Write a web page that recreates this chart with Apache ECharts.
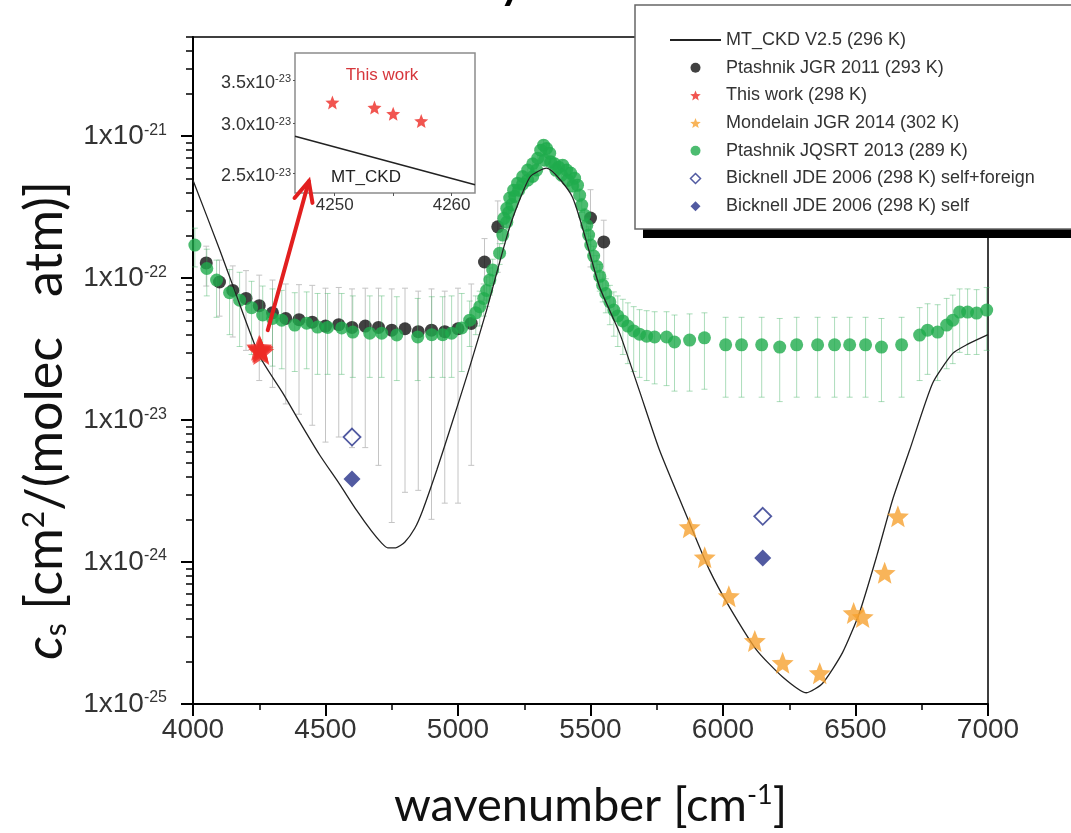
<!DOCTYPE html>
<html><head><meta charset="utf-8">
<script src="https://cdn.jsdelivr.net/npm/echarts@6/dist/echarts.min.js"></script>
<style>html,body{margin:0;padding:0;background:#fff}#c{width:1071px;height:833px}</style>
</head><body><div id="c"></div>
<script>
// ---------------- DATA ----------------
const yMajorTicks = [1e-25, 1e-24, 1e-23, 1e-22, 1e-21];
const yMinorMantissas = [2, 3, 4, 5, 6, 7, 8, 9];
const insetXLabels = [4250, 4260];
const insetXTicks = [4250, 4255, 4260];
const insetYTicks = [2.5e-23, 3.0e-23, 3.5e-23];

// MT_CKD V2.5 (296 K)
const mtckdX = [4000, 4101, 4157, 4250, 4339, 4403, 4478, 4553, 4617, 4674, 4712, 4735, 4765, 4799, 4837, 4867, 4920, 4969, 5044, 5108, 5195, 5271, 5334, 5432, 5534, 5610, 5685, 5761, 5874, 5950, 6025, 6127, 6225, 6315, 6376, 6451, 6515, 6580, 6640, 6705, 6791, 6867, 6920, 7000];
const mtckdY = [4.9e-22, 1.58e-22, 8.2e-23, 2.85e-23, 1.55e-23, 9.68e-24, 5.68e-24, 3.54e-24, 2.32e-24, 1.65e-24, 1.36e-24, 1.26e-24, 1.26e-24, 1.38e-24, 1.73e-24, 2.32e-24, 4.45e-24, 8.51e-24, 2.36e-23, 5.96e-23, 2.29e-22, 5.14e-22, 5.96e-22, 3.72e-22, 8.7e-23, 4.1e-23, 1.6e-23, 6.1e-24, 1.88e-24, 8.7e-25, 4.8e-25, 2.4e-25, 1.55e-25, 1.2e-25, 1.4e-25, 2.3e-25, 4.4e-25, 1.1e-24, 2.75e-24, 6.2e-24, 1.82e-23, 2.95e-23, 3.4e-23, 4.0e-23];

// Ptashnik JGR 2011 (293 K)
const p11X  = [4050, 4100, 4150, 4200, 4250, 4300, 4350, 4400, 4450, 4500, 4550, 4600, 4650, 4700, 4750, 4800, 4850, 4900, 4950, 5000, 5050, 5100, 5150, 5500, 5550];
const p11Y  = [1.28e-22, 9.4e-23, 8.2e-23, 7.2e-23, 6.4e-23, 5.7e-23, 5.2e-23, 5.1e-23, 4.9e-23, 4.6e-23, 4.7e-23, 4.5e-23, 4.6e-23, 4.5e-23, 4.3e-23, 4.4e-23, 4.2e-23, 4.3e-23, 4.2e-23, 4.4e-23, 4.8e-23, 1.3e-22, 2.3e-22, 2.65e-22, 1.8e-22];
const p11Lo = [8.8e-23, 5.4e-23, 3.85e-23, 3.1e-23, 1.9e-23, 1.7e-23, 1.3e-23, 1.1e-23, 9.2e-24, 7.0e-24, 7.6e-24, 6.4e-24, 6.4e-24, 4.8e-24, 1.9e-24, 3.1e-24, 3.2e-24, 2.0e-24, 2.6e-24, 2.6e-24, 4.8e-24, 7.0e-23, 1.1e-22, 1.2e-22, 1.0e-22];
const p11Hi = [1.68e-22, 1.34e-22, 1.22e-22, 1.13e-22, 1.05e-22, 9.7e-23, 9.1e-23, 9.0e-23, 8.9e-23, 8.5e-23, 8.6e-23, 8.4e-23, 8.5e-23, 8.5e-23, 8.4e-23, 8.5e-23, 8.1e-23, 8.4e-23, 8.1e-23, 8.5e-23, 9.1e-23, 1.9e-22, 3.5e-22, 4.2e-22, 2.56e-22];

// Ptashnik JQSRT 2013 (289 K)
const p13X = [4007, 4052, 4089, 4138, 4176, 4221, 4263, 4300, 4335, 4384, 4429, 4470, 4508, 4561, 4603, 4667, 4712, 4769, 4848, 4901, 4942, 4976, 5014,
  5044, 5067, 5082, 5097, 5108, 5120, 5131, 5157, 5169, 5184, 5191, 5203, 5214, 5229, 5244, 5263, 5282, 5297, 5173, 5184, 5195, 5210, 5225, 5244, 5263, 5282,
  5301, 5312, 5323, 5334, 5346, 5327, 5350,
  5365, 5380, 5395, 5410, 5425, 5440, 5451, 5369, 5391, 5414, 5433, 5459, 5467, 5478, 5486, 5493, 5501, 5512, 5524, 5535, 5546, 5558, 5573, 5588, 5603, 5622, 5641, 5663, 5685, 5712, 5742,
  5787, 5817, 5874, 5930, 6010, 6070, 6146, 6214, 6278, 6357, 6421, 6478, 6538, 6598, 6674, 6742, 6772, 6810, 6844, 6867, 6893, 6923, 6957, 6995];
const p13Y = [1.71e-22, 1.17e-22, 9.7e-23, 7.9e-23, 7.0e-23, 6.2e-23, 5.5e-23, 5.2e-23, 5.06e-23, 4.67e-23, 4.82e-23, 4.52e-23, 4.5e-23, 4.46e-23, 4.17e-23, 4.1e-23, 4.1e-23, 3.98e-23, 3.85e-23, 4.0e-23, 4.0e-23, 4.1e-23, 4.46e-23,
  5.06e-23, 5.7e-23, 6.3e-23, 7.2e-23, 8.2e-23, 9.7e-23, 1.14e-22, 1.5e-22, 2.01e-22, 2.48e-22, 2.9e-22, 3.3e-22, 3.77e-22, 4.17e-22, 4.6e-22, 4.9e-22, 5.2e-22, 5.77e-22, 2.64e-22, 3.1e-22, 3.67e-22, 4.17e-22, 4.67e-22, 5.2e-22, 5.77e-22, 6.4e-22,
  7.0e-22, 7.97e-22, 8.65e-22, 8.2e-22, 7.6e-22, 6.78e-22, 6.6e-22,
  6.4e-22, 6.05e-22, 6.25e-22, 5.77e-22, 5.5e-22, 5.06e-22, 4.52e-22, 5.77e-22, 5.31e-22, 4.9e-22, 4.46e-22, 3.84e-22, 3.27e-22, 2.78e-22, 2.36e-22, 2.01e-22, 1.71e-22, 1.43e-22, 1.21e-22, 1.03e-22, 8.93e-23, 7.8e-23, 6.8e-23, 5.96e-23, 5.42e-23, 5.0e-23, 4.6e-23, 4.25e-23, 4.03e-23, 3.9e-23, 3.85e-23,
  3.85e-23, 3.55e-23, 3.66e-23, 3.8e-23, 3.39e-23, 3.39e-23, 3.39e-23, 3.27e-23, 3.39e-23, 3.39e-23, 3.39e-23, 3.39e-23, 3.39e-23, 3.27e-23, 3.39e-23, 3.97e-23, 4.3e-23, 4.17e-23, 4.67e-23, 5.06e-23, 5.77e-23, 5.77e-23, 5.68e-23, 5.96e-23];
const p13Lo = [1.2e-22, 7.5e-23, 5.3e-23, 4.0e-23, 3.3e-23, 2.9e-23, 2.6e-23, 2.4e-23, 2.3e-23, 2.2e-23, 2.3e-23, 2.1e-23, 2.1e-23, 2.1e-23, 2.0e-23, 2.0e-23, 2.0e-23, 1.9e-23, 1.9e-23, 2.0e-23, 2.0e-23, 2.0e-23, 2.2e-23,
  3.3e-23, 4.0e-23, 4.6e-23, 5.4e-23, 6.3e-23, 7.6e-23, 9.2e-23, 1.25e-22, 1.75e-22, 2.2e-22, 2.6e-22, 3.0e-22, 3.4e-22, 3.8e-22, 4.2e-22, 4.5e-22, 4.8e-22, 5.3e-22, 2.4e-22, 2.8e-22, 3.35e-22, 3.8e-22, 4.3e-22, 4.8e-22, 5.3e-22, 5.9e-22,
  6.4e-22, 7.3e-22, 7.9e-22, 7.5e-22, 6.9e-22, 6.2e-22, 6.0e-22,
  5.85e-22, 5.5e-22, 5.7e-22, 5.25e-22, 5.0e-22, 4.6e-22, 4.1e-22, 5.25e-22, 4.85e-22, 4.45e-22, 4.05e-22, 3.45e-22, 2.9e-22, 2.45e-22, 2.05e-22, 1.72e-22, 1.44e-22, 1.18e-22, 9.8e-23, 8.1e-23, 6.8e-23, 5.7e-23, 4.7e-23, 3.9e-23, 3.3e-23, 2.9e-23, 2.5e-23, 2.2e-23, 2.0e-23, 1.9e-23, 1.8e-23,
  1.75e-23, 1.6e-23, 1.6e-23, 1.65e-23, 1.45e-23, 1.45e-23, 1.45e-23, 1.35e-23, 1.45e-23, 1.45e-23, 1.45e-23, 1.45e-23, 1.45e-23, 1.35e-23, 1.45e-23, 1.9e-23, 2.1e-23, 1.9e-23, 2.3e-23, 2.5e-23, 3.0e-23, 2.9e-23, 2.9e-23, 3.1e-23];
const p13Hi = [2.25e-22, 1.6e-22, 1.34e-22, 1.15e-22, 1.1e-22, 9.5e-23, 8.8e-23, 8.4e-23, 8.2e-23, 7.9e-23, 8.0e-23, 7.8e-23, 7.8e-23, 7.8e-23, 7.5e-23, 7.5e-23, 7.5e-23, 7.4e-23, 7.2e-23, 7.4e-23, 7.4e-23, 7.5e-23, 7.8e-23,
  6.9e-23, 7.5e-23, 8.1e-23, 9.1e-23, 1.02e-22, 1.18e-22, 1.36e-22, 1.75e-22, 2.27e-22, 2.76e-22, 3.2e-22, 3.6e-22, 4.1e-22, 4.55e-22, 5.0e-22, 5.3e-22, 5.6e-22, 6.25e-22, 2.88e-22, 3.4e-22, 4.0e-22, 4.55e-22, 5.05e-22, 5.6e-22, 6.25e-22, 6.9e-22,
  7.6e-22, 8.7e-22, 9.4e-22, 8.9e-22, 8.3e-22, 7.4e-22, 7.2e-22,
  6.95e-22, 6.6e-22, 6.8e-22, 6.3e-22, 6.0e-22, 5.5e-22, 4.95e-22, 6.3e-22, 5.8e-22, 5.35e-22, 4.9e-22, 4.25e-22, 3.65e-22, 3.1e-22, 2.65e-22, 2.3e-22, 1.98e-22, 1.68e-22, 1.44e-22, 1.25e-22, 1.1e-22, 9.9e-23, 8.9e-23, 8.0e-23, 7.5e-23, 7.1e-23, 6.7e-23, 6.3e-23, 6.0e-23, 5.9e-23, 5.8e-23,
  5.8e-23, 5.5e-23, 5.6e-23, 5.7e-23, 5.3e-23, 5.3e-23, 5.3e-23, 5.2e-23, 5.3e-23, 5.3e-23, 5.3e-23, 5.3e-23, 5.3e-23, 5.2e-23, 5.3e-23, 6.2e-23, 6.6e-23, 6.5e-23, 7.2e-23, 7.6e-23, 8.4e-23, 8.4e-23, 8.3e-23, 8.6e-23];

// This work (298 K)
const thisWorkX = [4249.8, 4253.4, 4255.0, 4257.4];
const thisWorkY = [3.23e-23, 3.17e-23, 3.10e-23, 3.02e-23];

// Mondelain JGR 2014 (302 K)
const mondX = [5874, 5931, 6022, 6120, 6225, 6365, 6493, 6527, 6610, 6660];
const mondY = [1.76e-24, 1.08e-24, 5.75e-25, 2.78e-25, 1.95e-25, 1.65e-25, 4.37e-25, 4.1e-25, 8.4e-25, 2.1e-24];

// Bicknell JDE 2006 (298 K)
const bickSFX = [4600, 6150];
const bickSFY = [7.6e-24, 2.1e-24];
const bickSX = [4600, 6150];
const bickSY = [3.85e-24, 1.07e-24];

// inset MT_CKD segment
const insetCkdX = [4246.6, 4262];
const insetCkdY = [2.86e-23, 2.40e-23];

// arrow from main star to inset (data coords)
const arrowX = [4282, 4437];
const arrowY = [4.3e-23, 4.82e-22];

// ---------------- STYLE ----------------
const STAR = 'path://M50,0L62.93,32.2L97.55,34.55L70.92,56.8L79.39,90.45L50,72L20.61,90.45L29.08,56.8L2.45,34.55L37.07,32.2Z';
const DIAM = 'path://M5,0L10,5L5,10L0,5Z';
const GREEN = '#1fab4c', GREEN_ERR = 'rgba(70,180,105,0.45)', GRAY_ERR = '#c4c4c4';
const RED = '#ee2a24', ORANGE = '#f6a12f', NAVY = '#25318a', BLACK = '#111';
const TICKFONT = 'Liberation Sans';
const YMAX = 5e-21;

const zip = (xs, ys) => xs.map((x, i) => [x, ys[i]]);
const zip3 = (xs, lo, hi) => xs.map((x, i) => [x, lo[i], hi[i]]);

// tick positions in log10 space, for auxiliary linear axes overlaying the log axis
const yMajorTicksLog = yMajorTicks.map(v => Math.round(Math.log10(v)));
const yMinorTicksLog = [];
yMajorTicks.forEach(d => {
  yMinorMantissas.forEach(m => { const v = m * d; if (v <= YMAX * 1.0001) yMinorTicksLog.push(Math.log10(v)); });
});
const insetYTicksLog = insetYTicks.map(v => Math.log10(v));

function errRender(color) {
  return function (params, api) {
    const x = api.value(0), lo = api.value(1), hi = api.value(2);
    const a = api.coord([x, lo]), b = api.coord([x, hi]);
    const w = 3;
    const st = { stroke: color, lineWidth: 1, fill: null };
    return {
      type: 'group', children: [
        { type: 'line', shape: { x1: a[0], y1: a[1], x2: b[0], y2: b[1] }, style: st },
        { type: 'line', shape: { x1: a[0] - w, y1: a[1], x2: a[0] + w, y2: a[1] }, style: st },
        { type: 'line', shape: { x1: b[0] - w, y1: b[1], x2: b[0] + w, y2: b[1] }, style: st }
      ]
    };
  };
}

function mainFmt(lv) {
  return '{b|1x10}{s|' + Math.round(lv) + '}';
}
function insetFmt(lv) {
  const e = Math.floor(lv + 1e-9);
  const m = Math.pow(10, lv - e);
  return '{b|' + m.toFixed(1) + 'x10}{s|' + e + '}';
}

const chart = echarts.init(document.getElementById('c'), null, { renderer: 'canvas' });

const option = {
  animation: false,
  backgroundColor: '#fff',
  grid: [
    { left: 193, top: 37, width: 795, height: 667, show: true, borderColor: '#000', borderWidth: 1.5, backgroundColor: 'transparent', containLabel: false, outerBoundsMode: 'none' },
    { left: 295, top: 53, width: 180, height: 140, show: true, borderColor: '#8c8c8c', borderWidth: 1.5, backgroundColor: '#fff', containLabel: false, outerBoundsMode: 'none' }
  ],
  xAxis: [
    {
      type: 'value', gridIndex: 0, min: 4000, max: 7000, interval: 500,
      axisLine: { show: true, onZero: false, lineStyle: { color: '#000', width: 2 } },
      axisTick: { show: true, length: 12, lineStyle: { color: '#000', width: 2 } },
      minorTick: { show: true, splitNumber: 2, length: 6, lineStyle: { color: '#000', width: 1.5 } },
      axisLabel: { fontFamily: TICKFONT, fontSize: 28, color: '#333', margin: 12, formatter: v => String(v) },
      splitLine: { show: false }, minorSplitLine: { show: false },
      name: 'wavenumber [cm{sup|-1}]', nameLocation: 'middle', nameGap: 78, nameMoveOverlap: false,
      nameTextStyle: {
        fontFamily: 'Lato', fontSize: 47, color: '#111',
        rich: { sup: { fontFamily: 'Lato', fontSize: 27, color: '#111', verticalAlign: 'top' } }
      }
    },
    {
      type: 'value', gridIndex: 1, min: 4246.6, max: 4262,
      axisLine: { show: false },
      axisTick: { show: true, length: 3, customValues: insetXTicks, lineStyle: { color: '#555', width: 1 } },
      axisLabel: { fontFamily: TICKFONT, fontSize: 17, color: '#333', margin: 4, customValues: insetXLabels, formatter: v => String(v) },
      splitLine: { show: false }
    }
  ],
  yAxis: [
    {
      type: 'log', logBase: 10, gridIndex: 0, min: 1e-25, max: YMAX, position: 'left',
      axisLine: { show: true, onZero: false, lineStyle: { color: '#000', width: 2 } },
      axisTick: { show: false }, axisLabel: { show: false },
      splitLine: { show: false },
      name: '{i|c}{sub|s} [cm{sup|2}/(molec   atm)]', nameLocation: 'middle', nameGap: 122, nameRotate: 90, nameMoveOverlap: false,
      nameTextStyle: {
        fontFamily: 'Lato', fontSize: 52, color: '#111', padding: [0, 100, 0, 0],
        rich: {
          i: { fontFamily: 'Lato', fontSize: 52, color: '#111', fontStyle: 'italic' },
          sub: { fontFamily: 'Lato', fontSize: 30, color: '#111', verticalAlign: 'bottom' },
          sup: { fontFamily: 'Lato', fontSize: 30, color: '#111', verticalAlign: 'top' }
        }
      }
    },
    {
      type: 'value', gridIndex: 0, min: -25, max: Math.log10(YMAX), position: 'left', offset: 0,
      axisLine: { show: false, onZero: false },
      axisTick: { show: true, length: 12, customValues: yMajorTicksLog, lineStyle: { color: '#000', width: 2 } },
      axisLabel: {
        customValues: yMajorTicksLog, margin: 26, formatter: mainFmt, color: '#333', hideOverlap: false,
        rich: {
          b: { fontFamily: TICKFONT, fontSize: 28, color: '#333' },
          s: { fontFamily: TICKFONT, fontSize: 16, color: '#333', verticalAlign: 'top' }
        }
      },
      splitLine: { show: false }
    },
    {
      type: 'value', gridIndex: 0, min: -25, max: Math.log10(YMAX), position: 'left', offset: 0,
      axisLine: { show: false, onZero: false },
      axisTick: { show: true, length: 7, customValues: yMinorTicksLog, lineStyle: { color: '#000', width: 1.5 } },
      axisLabel: { show: false },
      splitLine: { show: false }
    },
    {
      type: 'log', logBase: 10, gridIndex: 1, min: 2.33e-23, max: 3.86e-23, position: 'left',
      axisLine: { show: false }, axisTick: { show: false }, axisLabel: { show: false },
      splitLine: { show: false }
    },
    {
      type: 'value', gridIndex: 1, min: Math.log10(2.33e-23), max: Math.log10(3.86e-23), position: 'left', offset: 0,
      axisLine: { show: false, onZero: false },
      axisTick: { show: true, length: 2, customValues: insetYTicksLog, lineStyle: { color: '#555', width: 1 } },
      axisLabel: {
        customValues: insetYTicksLog, margin: 4, formatter: insetFmt, color: '#333', padding: [5, 0, 0, 0],
        rich: {
          b: { fontFamily: TICKFONT, fontSize: 18, color: '#333' },
          s: { fontFamily: TICKFONT, fontSize: 11, color: '#333', verticalAlign: 'top' }
        }
      },
      splitLine: { show: false }
    }
  ],
  legend: {
    orient: 'vertical', left: 664, top: 26, itemWidth: 51, itemHeight: 10, itemGap: 9.7,
    selectedMode: false, z: 60,
    textStyle: { fontFamily: TICKFONT, fontSize: 18, color: '#333', lineHeight: 18 },
    data: [
      { name: 'MT_CKD V2.5 (296 K)', itemStyle: { opacity: 0 } },
      { name: 'Ptashnik JGR 2011 (293 K)', icon: 'circle' },
      { name: 'This work (298 K)', icon: STAR },
      { name: 'Mondelain JGR 2014 (302 K)', icon: STAR },
      { name: 'Ptashnik JQSRT 2013 (289 K)', icon: 'circle' },
      { name: 'Bicknell JDE 2006 (298 K) self+foreign', icon: DIAM, itemStyle: { color: '#fff', borderColor: NAVY, borderWidth: 1.5 } },
      { name: 'Bicknell JDE 2006 (298 K) self', icon: DIAM, itemStyle: { color: NAVY } }
    ]
  },
  graphic: [
    { type: 'rect', z: 49, silent: true, shape: { x: 643, y: 14, width: 480, height: 224 }, style: { fill: '#000' } },
    { type: 'rect', z: 50, silent: true, shape: { x: 635, y: 5, width: 480, height: 224 }, style: { fill: '#fff', stroke: '#666', lineWidth: 1.5 } },
    { type: 'text', z: 20, silent: true, x: 382, y: 75, style: { text: 'This work', fill: '#d6373c', fontFamily: TICKFONT, fontSize: 17, align: 'center', verticalAlign: 'middle' } },
    { type: 'text', z: 20, silent: true, x: 366, y: 177, style: { text: 'MT_CKD', fill: '#222', fontFamily: TICKFONT, fontSize: 17, align: 'center', verticalAlign: 'middle' } },
    { type: 'text', z: 20, silent: true, x: 511, y: 7, style: { text: 'y', fill: '#000', fontFamily: 'Lato', fontWeight: 'bold', fontSize: 44, align: 'center', verticalAlign: 'bottom' } }
  ],
  series: [
    { name: 'errP11', type: 'custom', xAxisIndex: 0, yAxisIndex: 0, z: 1, silent: true,
      renderItem: errRender(GRAY_ERR), encode: { x: 0, y: [1, 2] }, data: zip3(p11X, p11Lo, p11Hi) },
    { name: 'Ptashnik JGR 2011 (293 K)', type: 'scatter', xAxisIndex: 0, yAxisIndex: 0, z: 2,
      symbol: 'circle', symbolSize: 13, itemStyle: { color: BLACK }, data: zip(p11X, p11Y) },
    { name: 'errP13', type: 'custom', xAxisIndex: 0, yAxisIndex: 0, z: 3, silent: true,
      renderItem: errRender(GREEN_ERR), encode: { x: 0, y: [1, 2] }, data: zip3(p13X, p13Lo, p13Hi) },
    { name: 'Ptashnik JQSRT 2013 (289 K)', type: 'scatter', xAxisIndex: 0, yAxisIndex: 0, z: 4,
      symbol: 'circle', symbolSize: 13, itemStyle: { color: GREEN }, data: zip(p13X, p13Y) },
    { name: 'MT_CKD V2.5 (296 K)', type: 'line', xAxisIndex: 0, yAxisIndex: 0, z: 5,
      symbol: 'none', smooth: 0.2, itemStyle: { color: 'rgba(0,0,0,0)' }, lineStyle: { color: '#222', width: 1.3 }, data: zip(mtckdX, mtckdY) },
    { name: 'Bicknell JDE 2006 (298 K) self+foreign', type: 'scatter', xAxisIndex: 0, yAxisIndex: 0, z: 6,
      symbol: 'diamond', symbolSize: 17, itemStyle: { color: '#fff', borderColor: NAVY, borderWidth: 1.8 }, data: zip(bickSFX, bickSFY) },
    { name: 'Bicknell JDE 2006 (298 K) self', type: 'scatter', xAxisIndex: 0, yAxisIndex: 0, z: 6,
      symbol: 'diamond', symbolSize: 17, itemStyle: { color: NAVY }, data: zip(bickSX, bickSY) },
    { name: 'Mondelain JGR 2014 (302 K)', type: 'scatter', xAxisIndex: 0, yAxisIndex: 0, z: 6,
      symbol: STAR, symbolSize: 22, itemStyle: { color: ORANGE }, data: zip(mondX, mondY) },
    { name: 'This work (298 K)', type: 'scatter', xAxisIndex: 0, yAxisIndex: 0, z: 7,
      symbol: STAR, symbolSize: 26, itemStyle: { color: RED }, data: zip(thisWorkX, thisWorkY) },
    { name: 'arrow', type: 'custom', xAxisIndex: 0, yAxisIndex: 0, z: 8, silent: true, clip: false,
      renderItem: function (params, api) {
        const p0 = api.coord([arrowX[0], arrowY[0]]);
        const p1 = api.coord([arrowX[1], arrowY[1]]);
        let dx = p0[0] - p1[0], dy = p0[1] - p1[1];
        const L = Math.hypot(dx, dy); dx /= L; dy /= L;
        const ang = 25 * Math.PI / 180, len = 22;
        const rot = (t) => [p1[0] + len * (dx * Math.cos(t) - dy * Math.sin(t)), p1[1] + len * (dx * Math.sin(t) + dy * Math.cos(t))];
        const a1 = rot(ang), a2 = rot(-ang);
        const st = { stroke: '#e21f1f', lineWidth: 4, fill: null, lineCap: 'round', lineJoin: 'miter' };
        return { type: 'group', children: [
          { type: 'polyline', shape: { points: [p0, p1] }, style: st },
          { type: 'polyline', shape: { points: [a1, p1, a2] }, style: st }
        ] };
      },
      encode: { x: 0, y: 1 }, data: [[arrowX[0], arrowY[0]]] },
    // inset
    { name: 'insetCkd', type: 'line', xAxisIndex: 1, yAxisIndex: 3, z: 5,
      symbol: 'none', lineStyle: { color: '#222', width: 1.5 }, data: zip(insetCkdX, insetCkdY) },
    { name: 'insetThisWork', type: 'scatter', xAxisIndex: 1, yAxisIndex: 3, z: 6,
      symbol: STAR, symbolSize: 14, itemStyle: { color: RED }, data: zip(thisWorkX, thisWorkY) }
  ]
};
chart.setOption(option);
</script></body></html>
